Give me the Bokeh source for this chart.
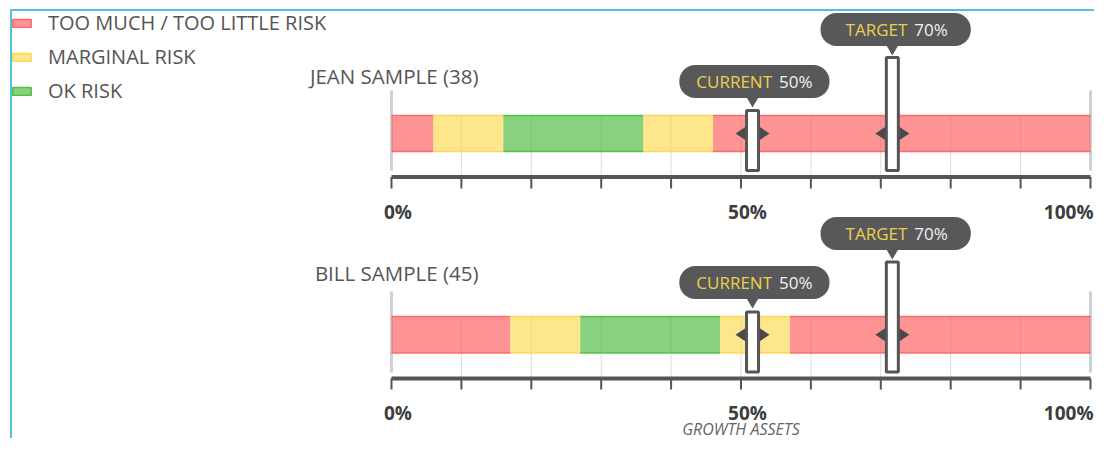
import math
from bokeh.plotting import figure
from bokeh.models import Range1d, Label, Legend, LegendItem, ColumnDataSource
from bokeh.transform import dodge
from bokeh.core.properties import value
from bokeh.embed import file_html
from bokeh.resources import INLINE

# ---------------- data ----------------
legend_labels = ["TOO MUCH / TOO LITTLE RISK", "MARGINAL RISK", "OK RISK"]
client_names = ["JEAN SAMPLE (38)", "BILL SAMPLE (45)"]
jean_zone_edges = [0, 6, 16, 36, 46, 100]      # % growth assets
bill_zone_edges = [0, 17, 27, 47, 57, 100]
zone_levels = [0, 1, 2, 1, 0]                  # 0 too much/little, 1 marginal, 2 ok
current_growth = [50, 50]
target_growth = [70, 70]
tick_values = [0, 10, 20, 30, 40, 50, 60, 70, 80, 90, 100]
tick_text = ["0%", "", "", "", "", "50%", "", "", "", "", "100%"]
axis_title = "GROWTH ASSETS"
callout_words = ["CURRENT", "TARGET"]

# ---------------- layout / style ----------------
W, H = 1094, 438
ZERO_PX, FULL_PX = 391, 1090
PX_PER_PCT = (FULL_PX - ZERO_PX) / 100.0
FONT = "Open Sans"
TXT = "#555555"
DARK = "#555555"
BOX = "#58585a"
YEL = "#ecd04c"
zone_fill = ["#ff4d4d", "#fcd53f", "#39b42a"]
zone_line = ["#ff5c5c", "#fbd446", "#45b83a"]
MK_DODGE = 1.65
NAN = float("nan")


def pct_at(px):
    return (px - ZERO_PX) / PX_PER_PCT


rows = [
    dict(edges=jean_zone_edges, bar=(115, 151), axis=176.5, tick_end=188, tick_lab=211.5,
         end=(90, 170), name_y=75, cur_box=81, cur_tip=107, cur_top=110,
         tgt_box=29, tgt_tip=55, tgt_top=57, mk_bot=170),
    dict(edges=bill_zone_edges, bar=(316, 352.5), axis=378, tick_end=389, tick_lab=412,
         end=(291, 372), name_y=272, cur_box=282, cur_tip=308, cur_top=311.5,
         tgt_box=233, tgt_tip=259, tgt_top=261.5, mk_bot=371.5),
]
# callout: (joint offset from value in px, left pad, right pad)
callout_geom = [(34, 17, 17), (29.5, 25, 23)]

p = figure(width=W, height=H, output_backend="svg", toolbar_location=None,
           x_range=Range1d(pct_at(0), pct_at(W)),
           y_range=Range1d(H, 0),
           x_axis_type=None, y_axis_type=None, min_border=0,
           outline_line_color=None, background_fill_color="white")
p.grid.visible = False

# grid lines and end lines
inner_ticks = tick_values[1:-1]
end_ticks = [tick_values[0], tick_values[-1]]
for r in rows:
    p.segment(x0=inner_ticks, x1=inner_ticks, y0=[r["bar"][0]] * len(inner_ticks),
              y1=[r["axis"]] * len(inner_ticks), line_color="#dcdcdc", line_width=1)
    p.segment(x0=end_ticks, x1=end_ticks, y0=[r["end"][0]] * 2, y1=[r["end"][1]] * 2,
              line_color="#cdd2d7", line_width=3)

# risk zones
zones = {lvl: dict(left=[], right=[], top=[], bottom=[]) for lvl in range(3)}
for r in rows:
    e = r["edges"]
    for i, lvl in enumerate(zone_levels):
        zones[lvl]["left"].append(e[i])
        zones[lvl]["right"].append(e[i + 1])
        zones[lvl]["top"].append(r["bar"][0])
        zones[lvl]["bottom"].append(r["bar"][1])

legend_renderers = []
for lvl in range(3):
    z = zones[lvl]
    p.quad(left=z["left"], right=z["right"], top=z["top"], bottom=z["bottom"],
           fill_color=zone_fill[lvl], fill_alpha=0.6, line_color=None)
    p.segment(x0=z["left"] * 2, x1=z["right"] * 2, y0=z["top"] + z["bottom"],
              y1=z["top"] + z["bottom"], line_color=zone_line[lvl], line_alpha=0.85, line_width=1.5)
    # legend swatch proxy (not drawn in the plot area)
    proxy = p.quad(left=[NAN], right=[NAN], top=[NAN], bottom=[NAN], fill_color=zone_fill[lvl],
                   fill_alpha=0.6, line_color=zone_line[lvl], line_alpha=0.9, line_width=1.5)
    legend_renderers.append(proxy)

# axis line, ticks, tick labels
lab_x = [t for t, s in zip(tick_values, tick_text) if s]
lab_s = [s for s in tick_text if s]
for r in rows:
    p.segment(x0=[tick_values[0]], x1=[tick_values[-1]], y0=[r["axis"]], y1=[r["axis"]],
              line_color=DARK, line_width=4)
    p.segment(x0=tick_values, x1=tick_values, y0=[r["axis"]] * len(tick_values),
              y1=[r["tick_end"]] * len(tick_values), line_color=DARK, line_width=2)
    p.text(x=lab_x[:2], y=[r["tick_lab"]] * 2, text=lab_s[:2], x_offset=6.5,
           text_align="center", text_baseline="middle", text_font=value(FONT),
           text_font_style="bold", text_font_size="19px", text_color="#3d3d3d")
    p.text(x=lab_x[2:], y=[r["tick_lab"]], text=lab_s[2:], x_offset=3,
           text_align="right", text_baseline="middle", text_font=value(FONT),
           text_font_style="bold", text_font_size="19px", text_color="#3d3d3d")

# client names
p.text(x=[tick_values[0]] * 2, y=[r["name_y"] for r in rows], text=client_names, x_offset=87,
       text_align="right", text_baseline="middle", text_font=value(FONT),
       text_font_size="20.5px", text_color=TXT)

# markers (current and target)
mk = dict(x=[], yc=[], ymid=[], h=[], tip=[])
for i, r in enumerate(rows):
    for val, top, tip in ((current_growth[i], r["cur_top"], r["cur_tip"]),
                          (target_growth[i], r["tgt_top"], r["tgt_tip"])):
        mk["x"].append(val)
        mk["yc"].append((r["bar"][0] + r["bar"][1]) / 2)
        mk["ymid"].append((top + r["mk_bot"]) / 2)
        mk["h"].append(r["mk_bot"] - top)
        mk["tip"].append(tip - 8)
src = ColumnDataSource(mk)
xd = dodge("x", MK_DODGE, range=p.x_range)
p.scatter(x=xd, y="yc", source=src, marker="diamond", size=34, angle=math.pi / 2,
          fill_color="#4a4a4c", line_color=None)
p.rect(x=xd, y="ymid", width=12, width_units="screen", height="h", source=src,
       fill_color="white", line_color=DARK, line_width=3)
p.scatter(x=xd, y="tip", source=src, marker="inverted_triangle", size=14,
          fill_color=BOX, line_color=None)

# callouts
for i, r in enumerate(rows):
    for k, (val, by) in enumerate(((current_growth[i], r["cur_box"]),
                                   (target_growth[i], r["tgt_box"]))):
        joint, padl, padr = callout_geom[k]
        p.add_layout(Label(x=val, y=by, x_offset=joint, text=callout_words[k], text_align="right",
                           text_baseline="middle", text_font=FONT, text_font_size="17px",
                           text_color=YEL, background_fill_color=BOX,
                           padding=dict(left=padl, right=3, top=5, bottom=5),
                           border_radius=dict(top_left=16, top_right=0, bottom_right=0, bottom_left=16)))
        p.add_layout(Label(x=val, y=by, x_offset=joint - 1, text=f"{val}%", text_align="left",
                           text_baseline="middle", text_font=FONT, text_font_size="17px",
                           text_color="#f2f2f2", background_fill_color=BOX,
                           padding=dict(left=5, right=padr, top=5, bottom=5),
                           border_radius=dict(top_left=0, top_right=16, bottom_right=16, bottom_left=0)))

# axis title
p.text(x=[(tick_values[0] + tick_values[-1]) / 2], y=[428], text=[axis_title],
       text_align="center", text_baseline="middle", text_font=value(FONT),
       text_font_style="italic", text_font_size="16px", text_color="#666666")

# panel border (left and top)
p.segment(x0=[pct_at(10.5), pct_at(10)], x1=[pct_at(10.5), pct_at(W)],
          y0=[9, 9.5], y1=[H, 9.5], line_color="#4fc3d9", line_width=2)

legend = Legend(items=[LegendItem(label=lbl, renderers=[rr]) for lbl, rr in zip(legend_labels, legend_renderers)],
                location=(10, H - 104), orientation="vertical", glyph_width=23, glyph_height=10,
                label_height=26, spacing=7, padding=0, margin=0, label_standoff=15,
                label_text_font=FONT, label_text_font_size="20px", label_text_color=TXT,
                border_line_color=None, background_fill_alpha=0)
p.add_layout(legend)

open("out.html", "w").write(file_html(p, INLINE))
